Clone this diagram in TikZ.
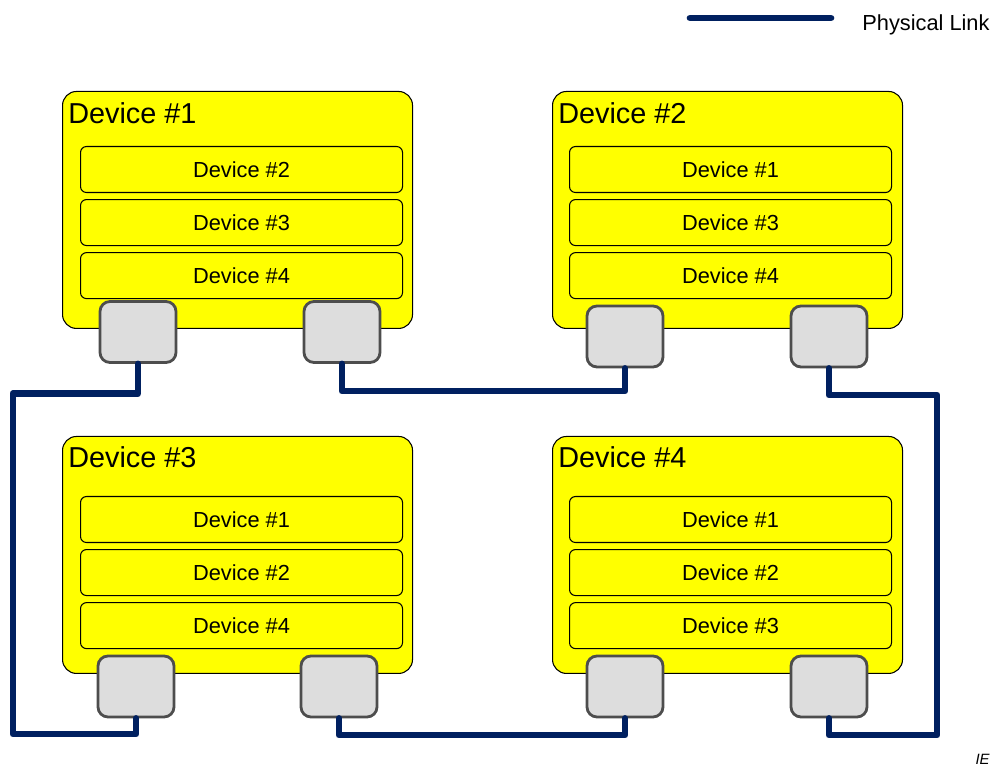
\documentclass[tikz,border=0pt]{standalone}
\usepackage{fontspec}
\setmainfont{Liberation Sans}
\usepackage{xcolor}
\usepackage{tikz}
\usetikzlibrary{positioning}
\definecolor{devyellow}{RGB}{255,255,0}
\definecolor{portgray}{RGB}{221,221,221}
\definecolor{portedge}{RGB}{77,77,77}
\definecolor{linknavy}{RGB}{0,32,96}

\begin{document}
\begin{tikzpicture}[
    devbox/.style={draw, line width=0.6pt, fill=devyellow, rounded corners=0.28cm, minimum width=7.0cm, minimum height=4.74cm, anchor=south west},
    devrow/.style={draw, line width=0.6pt, fill=devyellow, rounded corners=0.12cm, minimum width=6.44cm, minimum height=0.92cm, font=\fontsize{12.4}{14}\selectfont},
    devtitle/.style={inner sep=0pt, anchor=base west, font=\fontsize{16.4}{19}\selectfont},
    portbox/.style={draw=portedge, line width=1.6pt, fill=portgray, rounded corners=0.2cm, minimum width=1.52cm, minimum height=1.22cm},
    physlink/.style={draw=linknavy, line width=3.8pt, line cap=round, line join=round}]
  \useasboundingbox (0,0) rectangle (19.88,15.34);
  % legend
  \coordinate (lga) at (13.8,14.98);
  \coordinate (lgb) at (16.62,14.98);
  \draw[physlink] (lga) -- (lgb);
  \node[inner sep=0pt, anchor=base west, font=\fontsize{12.4}{14}\selectfont] (lgtext) at (17.24,14.72) {Physical Link};
  % device 1
  \node[devbox] (d1) at (1.24,8.76) {};
  \node[devtitle] (t1) at (1.36,12.87) {Device \#1};
  \node[devrow, anchor=north west] (r1a) at (1.6,12.42) {Device \#2};
  \node[devrow, below=0.12cm of r1a] (r1b) {Device \#3};
  \node[devrow, below=0.12cm of r1b] (r1c) {Device \#4};
  \node[portbox] (p1a) at (2.76,8.7) {};
  \node[portbox] (p1b) at (6.84,8.7) {};
  % device 2
  \node[devbox] (d2) at (11.04,8.76) {};
  \node[devtitle] (t2) at (11.16,12.87) {Device \#2};
  \node[devrow, anchor=north west] (r2a) at (11.38,12.42) {Device \#1};
  \node[devrow, below=0.12cm of r2a] (r2b) {Device \#3};
  \node[devrow, below=0.12cm of r2b] (r2c) {Device \#4};
  \node[portbox] (p2a) at (12.5,8.61) {};
  \node[portbox] (p2b) at (16.58,8.61) {};
  % device 3
  \node[devbox] (d3) at (1.24,1.86) {};
  \node[devtitle] (t3) at (1.36,5.98) {Device \#3};
  \node[devrow, anchor=north west] (r3a) at (1.6,5.42) {Device \#1};
  \node[devrow, below=0.12cm of r3a] (r3b) {Device \#2};
  \node[devrow, below=0.12cm of r3b] (r3c) {Device \#4};
  \node[portbox] (p3a) at (2.72,1.61) {};
  \node[portbox] (p3b) at (6.78,1.61) {};
  % device 4
  \node[devbox] (d4) at (11.04,1.86) {};
  \node[devtitle] (t4) at (11.16,5.98) {Device \#4};
  \node[devrow, anchor=north west] (r4a) at (11.38,5.42) {Device \#1};
  \node[devrow, below=0.12cm of r4a] (r4b) {Device \#2};
  \node[devrow, below=0.12cm of r4b] (r4c) {Device \#3};
  \node[portbox] (p4a) at (12.5,1.61) {};
  \node[portbox] (p4b) at (16.58,1.61) {};
  % physical links
  \coordinate (k1) at (0.26,7.47);
  \coordinate (k2) at (0.26,0.66);
  \coordinate (k3) at (18.74,7.44);
  \coordinate (k4) at (18.74,0.64);
  \coordinate (h12) at (0,7.52);
  \coordinate (h34) at (0,0.64);
  \draw[physlink] (p1a.south) |- (k1) -- (k2) -| (p3a.south);
  \draw[physlink] (p1b.south) -- (p1b.south |- h12) -| (p2a.south);
  \draw[physlink] (p2b.south) |- (k3) -- (k4) -| (p4b.south);
  \draw[physlink] (p3b.south) -- (p3b.south |- h34) -| (p4a.south);
  \node[inner sep=0pt, anchor=base east, font=\fontsize{8.5}{10}\selectfont\itshape] (ie) at (19.8,0.04) {IE};
\end{tikzpicture}
\end{document}
